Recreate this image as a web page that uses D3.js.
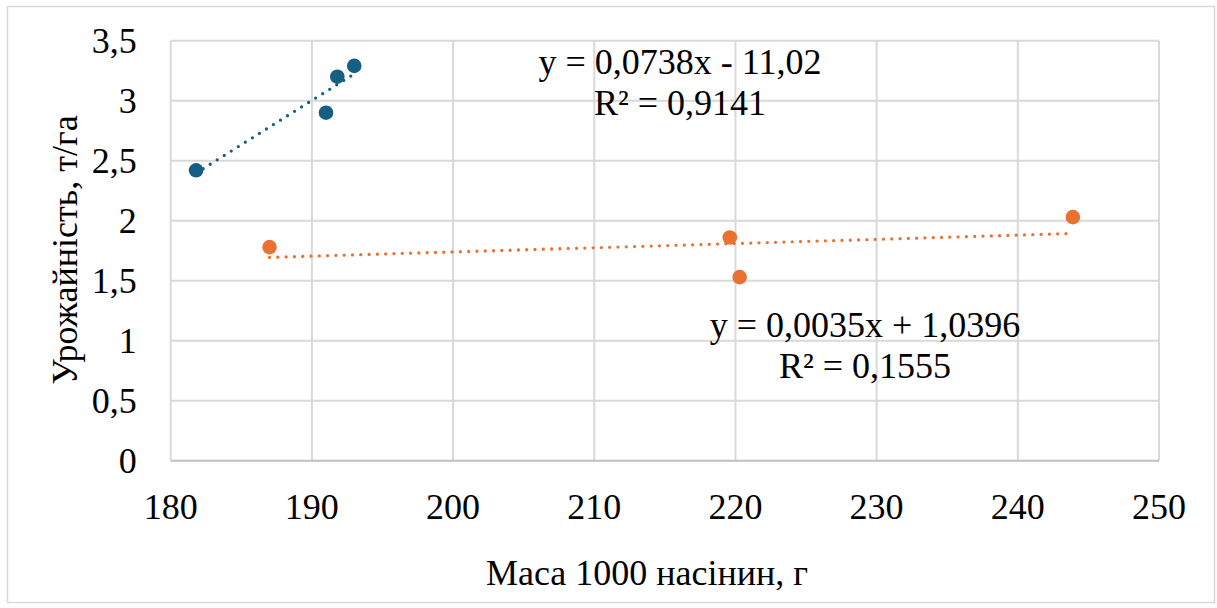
<!DOCTYPE html>
<html>
<head>
<meta charset="utf-8">
<script src="https://cdn.jsdelivr.net/npm/d3@7"></script>
<style>
  html, body { margin: 0; padding: 0; background: #fff; }
  svg text { font-family: "Liberation Serif", "Times New Roman", serif; fill: #000; }
</style>
</head>
<body>
<svg id="chart" width="1217" height="608"></svg>
<script>
// Series 1 (blue)
const blueX = [181.8, 191, 191.8, 193];
const blueY = [2.42, 2.9, 3.2, 3.29];
// Series 2 (orange)
const orangeX = [187, 219.6, 220.3, 243.9];
const orangeY = [1.78, 1.86, 1.53, 2.03];

// Linear trend coefficients as printed on the chart
const blueTrend = [0.0738, -11.02];
const orangeTrend = [0.0035, 1.0396];
const blueLabel = ["y = 0,0738x - 11,02", "R² = 0,9141"];
const orangeLabel = ["y = 0,0035x + 1,0396", "R² = 0,1555"];

// Axes
const xTicks = [180, 190, 200, 210, 220, 230, 240, 250];
const yTicks = [0, 0.5, 1, 1.5, 2, 2.5, 3, 3.5];
const xTitle = "Маса 1000 насінин, г";
const yTitle = "Урожайність, т/га";

const svg = d3.select("#chart");
const W = 1217, H = 608;
const margin = { top: 40.7, right: 58, bottom: 147.3, left: 170.7 };
const innerW = W - margin.left - margin.right;
const innerH = H - margin.top - margin.bottom;
const fontSize = 36;

// outer chart border
svg.append("rect")
  .attr("x", 7.5).attr("y", 6.5)
  .attr("width", 1207).attr("height", 596)
  .attr("fill", "#fff")
  .attr("stroke", "#d9d9d9")
  .attr("stroke-width", 1.5);

const x = d3.scaleLinear().domain([180, 250]).range([0, innerW]);
const y = d3.scaleLinear().domain([0, 3.5]).range([innerH, 0]);
const fmt = (d) => String(d).replace(".", ",");

const g = svg.append("g")
  .attr("transform", `translate(${margin.left},${margin.top})`);

// gridlines
g.append("g").selectAll("line")
  .data(xTicks)
  .join("line")
  .attr("x1", (d) => x(d)).attr("x2", (d) => x(d))
  .attr("y1", 0).attr("y2", innerH)
  .attr("stroke", "#d9d9d9")
  .attr("stroke-width", 2);

g.append("g").selectAll("line")
  .data(yTicks)
  .join("line")
  .attr("x1", 0).attr("x2", innerW)
  .attr("y1", (d) => y(d)).attr("y2", (d) => y(d))
  .attr("stroke", (d) => (d === 0 ? "#bfbfbf" : "#d9d9d9"))
  .attr("stroke-width", 2);

// tick labels
g.append("g").selectAll("text")
  .data(xTicks)
  .join("text")
  .attr("x", (d) => x(d))
  .attr("y", innerH + 58)
  .attr("text-anchor", "middle")
  .style("font-size", `${fontSize}px`)
  .text((d) => d);

g.append("g").selectAll("text")
  .data(yTicks)
  .join("text")
  .attr("x", -34)
  .attr("y", (d) => y(d) + 12)
  .attr("text-anchor", "end")
  .style("font-size", `${fontSize}px`)
  .text(fmt);

// axis titles
svg.append("text")
  .attr("x", 647)
  .attr("y", 585)
  .attr("text-anchor", "middle")
  .style("font-size", `${fontSize}px`)
  .text(xTitle);

svg.append("text")
  .attr("transform", "translate(77,250) rotate(-90)")
  .attr("text-anchor", "middle")
  .style("font-size", `${fontSize}px`)
  .text(yTitle);

// trendlines and points
const series = [
  { xs: blueX, ys: blueY, trend: blueTrend, color: "#156082" },
  { xs: orangeX, ys: orangeY, trend: orangeTrend, color: "#E97132" },
];

series.forEach((s) => {
  const ext = d3.extent(s.xs);
  const line = d3.line()
    .x((d) => x(d))
    .y((d) => y(s.trend[0] * d + s.trend[1]));
  g.append("path")
    .datum(ext)
    .attr("d", line)
    .attr("fill", "none")
    .attr("stroke", s.color)
    .attr("stroke-width", 3.3)
    .attr("stroke-linecap", "round")
    .attr("stroke-dasharray", "0 8.3");

  g.append("g").selectAll("circle")
    .data(s.xs.map((v, i) => [v, s.ys[i]]))
    .join("circle")
    .attr("cx", (d) => x(d[0]))
    .attr("cy", (d) => y(d[1]))
    .attr("r", 7.3)
    .attr("fill", s.color);
});

// equation labels
const addLabel = (lines, cx, y0) => {
  const t = svg.append("text")
    .attr("text-anchor", "middle")
    .style("font-size", `${fontSize}px`);
  lines.forEach((l, i) => {
    t.append("tspan")
      .attr("x", cx)
      .attr("y", y0 + i * 41)
      .text(l);
  });
};
addLabel(blueLabel, 680, 74);
addLabel(orangeLabel, 865, 337);
</script>
</body>
</html>
